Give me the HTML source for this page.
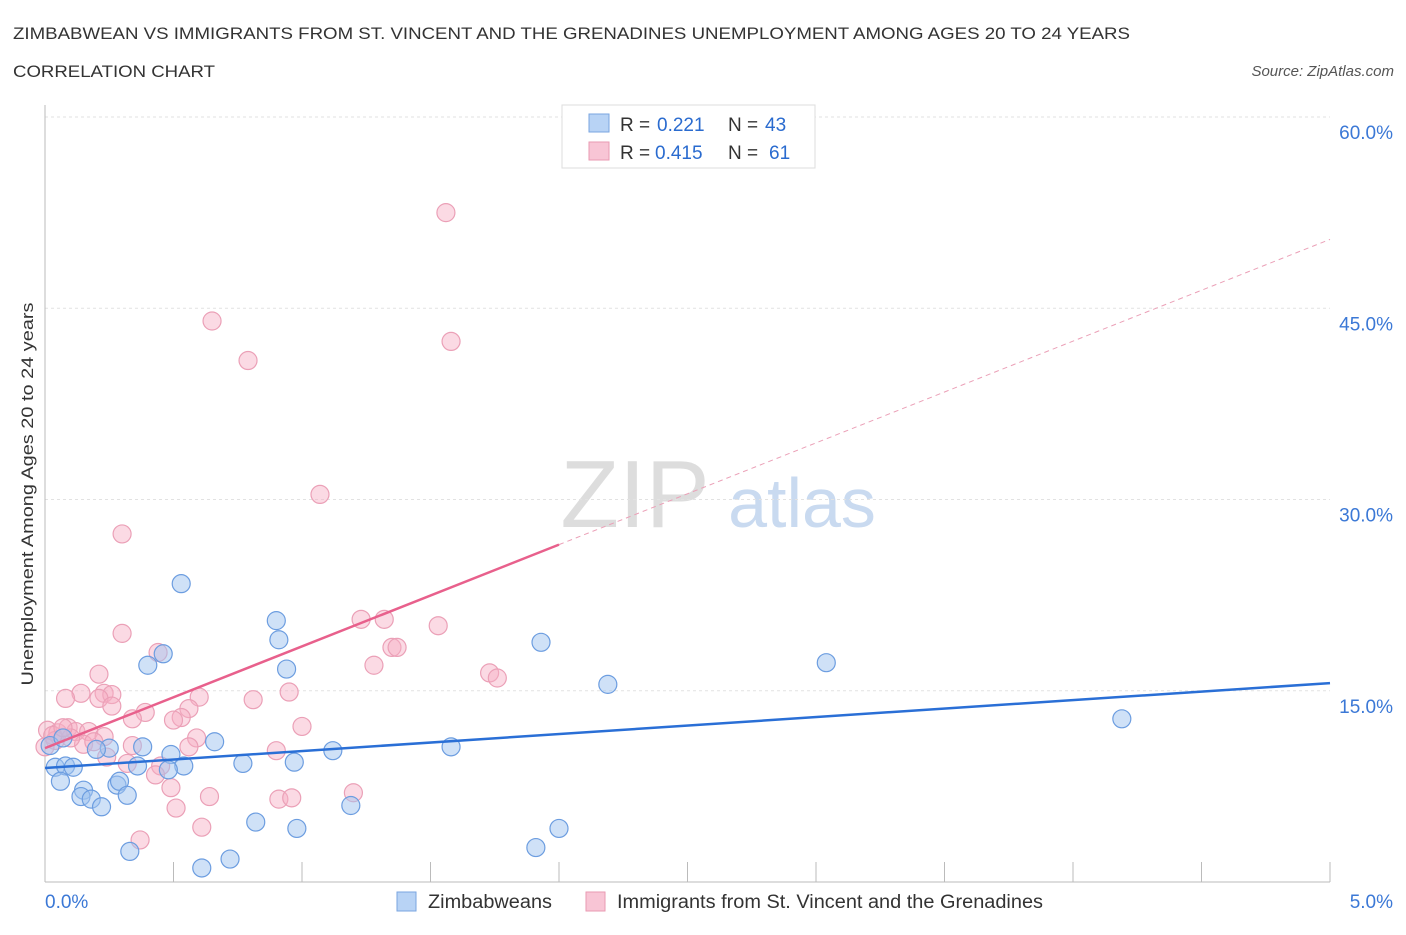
<!DOCTYPE html>
<html><head><meta charset="utf-8"><style>
body{margin:0;background:#fff;font-family:"Liberation Sans",sans-serif;}
svg text{font-family:"Liberation Sans",sans-serif;}
</style></head><body>
<svg width="1406" height="930" viewBox="0 0 1406 930">
<text x="13" y="39" font-size="17" fill="#333" textLength="1117" lengthAdjust="spacingAndGlyphs">ZIMBABWEAN VS IMMIGRANTS FROM ST. VINCENT AND THE GRENADINES UNEMPLOYMENT AMONG AGES 20 TO 24 YEARS</text>
<text x="13" y="77" font-size="17" fill="#333" textLength="202" lengthAdjust="spacingAndGlyphs">CORRELATION CHART</text>
<text x="1394" y="76" font-size="15" fill="#555" font-style="italic" text-anchor="end">Source: ZipAtlas.com</text>
<g>
<text x="635" y="527" font-size="96" fill="#ddd" text-anchor="middle" font-family="Liberation Serif,serif">ZIP</text>
<text x="802" y="527" font-size="70" fill="#c9daf0" text-anchor="middle">atlas</text>
</g>
<g id="grid"></g>
<line x1="45" y1="105" x2="45" y2="882" stroke="#bbb"/>
<line x1="45" y1="882" x2="1330" y2="882" stroke="#bbb"/>
<text transform="translate(33,494) rotate(-90)" font-size="17" fill="#333" text-anchor="middle" textLength="383" lengthAdjust="spacingAndGlyphs">Unemployment Among Ages 20 to 24 years</text>
<g id="marks"></g>
<g>
<rect x="562" y="105" width="253" height="63" fill="#fff" stroke="#ddd"/>
<rect x="589" y="114" width="20" height="18" fill="#b8d3f5" stroke="#7aa6e0"/>
<rect x="589" y="142" width="20" height="18" fill="#f8c5d5" stroke="#e99ab2"/>
<g font-size="19">
<text x="620" y="131" fill="#333">R =</text><text x="657" y="131" fill="#2a6bcf">0.221</text>
<text x="728" y="131" fill="#333">N =</text><text x="765" y="131" fill="#2a6bcf">43</text></g>
<g font-size="19">
<text x="620" y="159" fill="#333">R =</text><text x="655" y="159" fill="#2a6bcf">0.415</text>
<text x="728" y="159" fill="#333">N =</text><text x="769" y="159" fill="#2a6bcf">61</text></g>
</g>
<g>
<rect x="397" y="892" width="19" height="19" fill="#b8d3f5" stroke="#7aa6e0"/>
<text x="428" y="908" font-size="19" fill="#333" textLength="124" lengthAdjust="spacingAndGlyphs">Zimbabweans</text>
<rect x="586" y="892" width="19" height="19" fill="#f8c5d5" stroke="#e99ab2"/>
<text x="617" y="908" font-size="19" fill="#333" textLength="426" lengthAdjust="spacingAndGlyphs">Immigrants from St. Vincent and the Grenadines</text>
</g>
</svg>
<script>
const yTicks=[15,30,45,60];
const yTickLabels=["15.0%","30.0%","45.0%","60.0%"];
const xTickLabels=["0.0%","5.0%"];
const blueX=[0.53,0.90,0.91,0.46,0.40,0.94,1.93,3.04,2.19,4.19,1.58,1.12,0.66,0.38,0.25,0.20,0.49,0.04,0.08,0.11,0.36,0.54,0.77,0.97,0.48,0.06,0.15,0.14,0.18,0.28,0.29,0.32,0.22,1.19,0.82,0.98,2.00,1.91,0.33,0.72,0.61,0.02,0.07];
const blueY=[23.4,20.5,19.0,17.9,17.0,16.7,18.8,17.2,15.5,12.8,10.6,10.3,11.0,10.6,10.5,10.4,10.0,9.0,9.1,9.0,9.1,9.1,9.3,9.4,8.8,7.9,7.2,6.7,6.5,7.6,7.9,6.8,5.9,6.0,4.7,4.2,4.2,2.7,2.4,1.8,1.1,10.7,11.3];
const pinkX=[1.56,0.65,0.79,1.58,1.07,0.30,0.30,0.44,1.23,1.32,1.53,1.35,1.37,1.28,1.73,1.76,0.21,0.14,0.08,0.23,0.26,0.60,0.95,0.21,0.26,0.56,0.81,0.39,0.53,0.50,0.34,1.00,0.01,0.05,0.09,0.12,0.17,0.23,0.04,0.15,0.19,0.59,0.56,0.34,0.90,0.24,0.32,0.45,0.43,0.49,0.64,0.91,0.96,1.20,0.51,0.61,0.37,0.03,0.10,0.00,0.07];
const pinkY=[52.5,44.0,40.9,42.4,30.4,27.3,19.5,18.0,20.6,20.6,20.1,18.4,18.4,17.0,16.4,16.0,16.3,14.8,14.4,14.8,14.7,14.5,14.9,14.4,13.8,13.6,14.3,13.3,12.9,12.7,12.8,12.2,11.9,11.7,12.1,11.8,11.8,11.4,11.1,10.8,11.0,11.3,10.6,10.7,10.3,9.8,9.3,9.1,8.4,7.4,6.7,6.5,6.6,7.0,5.8,4.3,3.3,11.5,11.3,10.6,12.1];
const blueTrend=[8.94,15.6];
const pinkTrend=[10.5,50.4];
const pinkSolidEnd=2.0;
const NS="http://www.w3.org/2000/svg";
const X=v=>45+v*257;
const Y=v=>882-v*12.75;
function mk(t,a){const e=document.createElementNS(NS,t);for(const k in a)e.setAttribute(k,a[k]);return e;}
const grid=document.getElementById('grid'),marks=document.getElementById('marks');
const svg=document.querySelector('svg');
yTicks.forEach((t,i)=>{
 const l=mk('line',{x1:45,x2:1330,y1:Y(t),y2:Y(t),stroke:'#e2e2e2','stroke-dasharray':'3,3'});
 
 
 grid.appendChild(l);
 const tx=mk('text',{x:1393,y:Y(t)+22,'font-size':19,fill:'#3b78d6','text-anchor':'end'});
 tx.textContent=yTickLabels[i];
 
 
 svg.appendChild(tx);
});
for(let i=0;i<=10;i++){
 const l=mk('line',{x1:X(i*0.5),x2:X(i*0.5),y1:862,y2:882,stroke:'#bbb'});
 
 
 grid.appendChild(l);
}
[[0,'start',45],[5,'end',1393]].forEach((d,i)=>{
 const tx=mk('text',{x:d[2],y:908,'font-size':19,fill:'#3b78d6','text-anchor':d[1]});
 tx.textContent=xTickLabels[i];
 
 
 svg.appendChild(tx);
});
pinkX.forEach((x,i)=>{
 const c=mk('circle',{cx:X(x),cy:Y(pinkY[i]),r:9,fill:'rgba(246,172,196,0.45)',stroke:'#eba0b7','stroke-width':1.2});
 
 
 marks.appendChild(c);
});
blueX.forEach((x,i)=>{
 const c=mk('circle',{cx:X(x),cy:Y(blueY[i]),r:9,fill:'rgba(160,196,240,0.5)',stroke:'#6c9de0','stroke-width':1.2});
 
 
 marks.appendChild(c);
});
const pAt=x=>pinkTrend[0]+(pinkTrend[1]-pinkTrend[0])*x/5;
let l1=mk('line',{x1:X(0),y1:Y(pinkTrend[0]),x2:X(pinkSolidEnd),y2:Y(pAt(pinkSolidEnd)),stroke:'#e8608c','stroke-width':2.5});


marks.appendChild(l1);
let l2=mk('line',{x1:X(pinkSolidEnd),y1:Y(pAt(pinkSolidEnd)),x2:X(5),y2:Y(pinkTrend[1]),stroke:'#eba0b7','stroke-width':1,'stroke-dasharray':'5,4'});


marks.appendChild(l2);
let l3=mk('line',{x1:X(0),y1:Y(blueTrend[0]),x2:X(5),y2:Y(blueTrend[1]),stroke:'#2a6fd6','stroke-width':2.5});


marks.appendChild(l3);
</script>
</body></html>
